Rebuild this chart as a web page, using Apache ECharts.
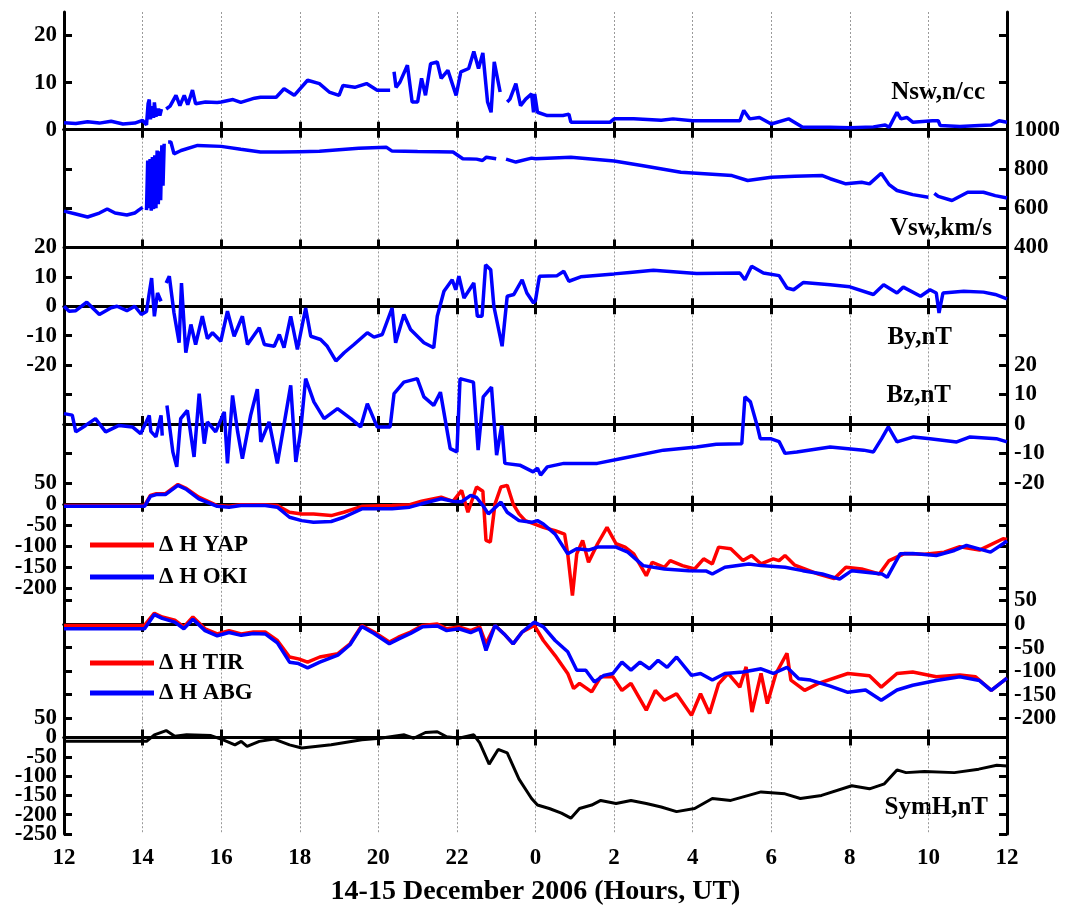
<!DOCTYPE html>
<html><head><meta charset="utf-8">
<script src="https://cdn.jsdelivr.net/npm/echarts@6/dist/echarts.min.js"></script>
<style>html,body{margin:0;padding:0;background:#fff}#c{width:1069px;height:907px}</style>
</head><body><div id="c"></div><script>
// ---------- data (time in hours from 14 Dec 00 UT) ----------
const nswT = [12.0,12.3,12.6,12.9,13.2,13.5,13.8,14.0,14.1,14.14,14.17,14.2,14.25,14.28,14.3,14.34,14.4,14.44,14.48,14.5,14.6,14.7,14.85,14.95,15.06,15.15,15.27,15.35,15.6,15.9,16.0,16.3,16.5,16.85,17.0,17.4,17.6,17.86,18.2,18.5,18.75,19.0,19.1,19.4,19.7,19.97,20.3,20.35,20.4,20.45,20.55,20.74,20.86,21.0,21.1,21.2,21.33,21.5,21.6,21.77,21.98,22.1,22.3,22.43,22.55,22.66,22.78,22.87,22.95,23.1,23.15,23.28,23.35,23.5,23.62,23.75,23.9,23.95,23.98,24.05,24.3,24.7,24.85,24.9,25.5,25.9,26.0,26.5,27.2,27.5,28.0,28.5,29.2,29.3,29.45,29.7,30.0,30.44,30.8,31.5,32.0,32.6,32.9,33.0,33.2,33.3,33.45,33.6,34.1,34.25,34.3,34.8,35.3,35.6,35.8,36.0];
const nswV = [1.5,1.3,1.7,1.4,1.8,1.2,1.4,2.0,1.0,5.5,6.4,2.2,5.0,2.5,5.8,2.8,4.5,3.0,4.4,null,4.4,5.0,7.3,5.1,7.3,5.3,8.4,5.5,5.9,5.8,5.9,6.4,5.8,6.7,6.9,6.9,8.7,7.3,10.5,9.8,8.0,7.3,9.4,9.0,9.8,8.4,8.4,null,12.3,9.0,10.1,13.7,5.9,5.9,10.9,7.3,14.0,14.4,10.9,12.6,7.3,12.3,13.0,16.6,13.0,16.3,5.9,3.7,14.4,8.0,null,5.9,6.5,9.8,5.1,6.5,7.6,3.7,7.6,3.7,3.0,3.0,3.3,1.6,1.6,1.6,2.3,2.3,2.0,2.3,1.9,1.9,1.9,4.1,2.3,2.6,1.2,2.3,0.5,0.5,0.4,0.6,1.0,0.5,3.7,2.3,2.6,1.6,1.9,1.9,0.9,0.7,0.9,1.0,1.9,1.6];

const vswT = [12.0,12.3,12.6,12.9,13.1,13.3,13.6,13.8,13.9,14.0,14.05,14.1,14.13,14.16,14.19,14.22,14.25,14.28,14.31,14.34,14.37,14.4,14.43,14.46,14.49,14.52,14.55,14.6,14.65,14.72,14.8,14.98,15.4,16.0,16.5,17.0,17.5,18.0,18.5,19.0,19.5,20.2,20.35,21.0,21.5,21.9,22.15,22.5,22.65,22.75,23.0,23.2,23.25,23.5,23.9,24.0,24.9,26.0,26.7,27.7,29.0,29.4,30.0,30.6,31.3,31.5,31.9,32.3,32.5,32.8,33.0,33.2,33.6,34.0,34.05,34.15,34.25,34.6,35.0,35.4,35.7,36.0];
const vswV = [585,570,555,575,596,575,565,575,590,604,null,590,843,600,850,587,860,595,870,600,894,620,890,640,920,715,928,null,937,937,877,894,920,915,900,886,886,888,890,898,905,911,891,889,888,886,852,850,843,860,852,null,850,835,855,852,860,840,818,783,766,741,758,763,766,750,724,732,724,778,720,690,669,656,null,676,660,639,681,681,664,652];

const byT = [12.0,12.13,12.3,12.58,12.9,13.2,13.35,13.6,13.8,13.97,14.1,14.17,14.23,14.3,14.38,14.47,14.5,14.6,14.68,14.8,14.93,14.99,15.1,15.23,15.35,15.52,15.65,15.78,15.99,16.16,16.33,16.54,16.67,16.97,17.1,17.35,17.48,17.6,17.77,17.94,18.15,18.28,18.53,18.7,18.92,19.13,19.38,19.72,19.89,20.1,20.35,20.44,20.65,20.82,21.16,21.41,21.5,21.67,21.88,21.97,22.05,22.18,22.43,22.52,22.64,22.73,22.86,22.94,23.15,23.28,23.45,23.66,23.78,23.95,24.0,24.1,24.55,24.72,24.85,25.15,26.0,26.4,27.0,28.1,29.2,29.33,29.5,29.8,30.2,30.4,30.57,30.82,31.5,32.0,32.6,32.86,33.2,33.36,33.8,34.04,34.2,34.27,34.37,34.9,35.4,35.7,36.0];
const byV = [0,-1.7,-1.5,1.4,-2.8,-0.5,0,-1.5,0,-2.8,-1.8,4.5,9.6,-3.4,4.5,1.7,null,7.9,10.2,-2.3,-12.4,7.9,-15.8,-6.2,-13.0,-3.4,-11,-9.0,-11.9,-1.7,-10.2,-3.4,-13.0,-7.3,-13.0,-13.6,-9.6,-14.1,-3.4,-14.7,-0.6,-10.2,-11.3,-13.6,-18.6,-15.8,-13.0,-9.0,-10.5,-9.6,-0.6,-12.4,-2.8,-7.9,-12.4,-14.1,-3.4,5.1,9.0,5.6,10.2,2.8,7.9,-3.4,-3.4,14.1,12.4,0,-13.6,3.4,4.0,9.0,4.5,1.1,2.0,10.2,10.4,11.9,8.5,10.0,11.0,11.5,12.2,11.1,11.3,9.0,13.6,11.3,10.4,6.2,5.6,8.1,7.3,6.6,4.0,7.3,4.5,6.5,3.4,5.6,4.5,-2.3,4.5,5.1,4.8,4.0,2.5];

const bzT = [12.0,12.21,12.3,12.55,12.8,13.06,13.4,13.74,13.95,14.17,14.21,14.34,14.47,14.5,14.55,14.62,14.77,14.87,14.97,15.14,15.31,15.44,15.57,15.65,15.86,16.08,16.16,16.29,16.42,16.54,16.75,16.92,17.01,17.22,17.43,17.77,17.9,18.02,18.15,18.36,18.62,18.96,19.3,19.55,19.72,19.97,20.3,20.4,20.65,20.99,21.16,21.41,21.58,21.83,22.0,22.08,22.42,22.54,22.67,22.88,23.01,23.14,23.22,23.6,23.94,24.05,24.13,24.3,24.72,25.57,26.16,27.26,28.1,28.6,29.25,29.33,29.47,29.64,29.72,29.98,30.2,30.35,30.65,31.5,32.35,32.6,32.81,32.98,33.2,33.62,34.04,34.72,35.06,35.73,36.0];
const bzV = [3.5,3.0,-2.7,-0.5,1.8,-2.7,-0.5,-1.0,-3.3,2.9,-2.5,-4.4,2.9,-4,null,6.3,-9.5,-14.6,1.8,4.6,-11.2,10.3,-6.7,0.7,-2.7,4.1,-13.4,9.7,-2.7,-11.8,2.9,11.8,-6.1,0.7,-13.4,13.1,-12.9,-2.7,15.4,7.5,1.8,5.2,1.8,-1.0,6.9,-1.0,-1.0,10.3,14.2,15.4,9.2,6.3,10.8,-8.4,-9.5,15.4,14.2,-8.9,9.2,12.5,-10.6,-0.5,-13.4,-14.0,-16.3,-15.0,-17.4,-14.6,-13.4,-13.4,-11.8,-8.9,-7.8,-6.9,-6.7,9.2,7.5,-0.5,-5.0,-5.0,-6.0,-10.0,-9.5,-7.8,-8.9,-9.5,-5.0,-1.0,-6.1,-4.4,-5.0,-6.1,-4.4,-5.0,-6.1];

const yapT = [12.0,14.05,14.2,14.35,14.58,14.9,15.12,15.43,15.9,16.2,16.5,17.12,17.43,17.74,18.05,18.35,18.8,19.12,19.58,20.35,20.8,21.1,21.6,21.9,22.12,22.28,22.5,22.66,22.74,22.85,22.97,23.12,23.28,23.43,23.58,23.74,24.2,24.5,24.74,24.82,24.94,25.05,25.2,25.35,25.58,25.82,26.05,26.28,26.5,26.82,26.97,27.28,27.43,27.74,28.05,28.28,28.5,28.66,28.97,29.28,29.5,29.74,30.05,30.2,30.35,30.6,31.2,31.6,31.9,32.3,32.75,33.0,33.4,33.9,34.4,34.8,35.3,35.9,36.0];
const yapV = [-4,-4,20,24,24,46,36,16,-4,-6,-2,-2,-4,-20,-24,-24,-28,-20,-6,-4,-2,6,16,6,32,-20,40,30,-87,-91,0,40,44,0,-24,-40,-56,-64,-72,-119,-218,-119,-87,-139,-95,-56,-95,-103,-119,-171,-139,-151,-135,-147,-155,-131,-143,-103,-107,-135,-123,-143,-131,-135,-123,-146,-167,-178,-151,-155,-167,-135,-118,-120,-115,-102,-110,-83,-85];

const okiT = [12.0,14.05,14.2,14.35,14.58,14.9,15.12,15.43,15.9,16.2,16.5,17.12,17.43,17.74,18.05,18.35,18.8,19.12,19.58,20.35,20.8,21.1,21.6,21.9,22.12,22.35,22.5,22.66,22.8,23.12,23.28,23.58,23.9,24.05,24.2,24.5,24.82,25.05,25.35,25.58,26.05,26.35,26.74,27.28,27.9,28.35,28.5,28.82,29.43,29.74,30.35,30.8,31.3,31.74,32.05,32.82,32.95,33.28,33.6,34.2,34.66,34.97,35.58,35.9,36.0];
const okiV = [-6,-6,18,22,22,44,34,12,-6,-8,-4,-4,-8,-32,-40,-44,-42,-32,-12,-12,-8,0,12,6,5,20,15,-4,-24,4,-20,-40,-44,-40,-48,-72,-119,-107,-110,-103,-103,-115,-147,-155,-159,-160,-167,-151,-143,-147,-151,-159,-167,-179,-159,-167,-175,-119,-118,-123,-111,-99,-115,-95,-88];

const tirT = [12.0,14.05,14.3,14.5,14.82,15.05,15.28,15.59,15.9,16.2,16.51,16.82,17.12,17.43,17.74,17.97,18.2,18.51,18.97,19.28,19.58,19.89,20.28,20.51,20.82,21.12,21.5,21.74,22.05,22.35,22.58,22.74,22.97,23.2,23.43,23.66,23.97,24.2,24.5,24.82,24.97,25.12,25.43,25.66,25.97,26.2,26.43,26.82,27.05,27.28,27.59,27.97,28.2,28.43,28.66,28.9,29.2,29.36,29.51,29.74,29.9,30.12,30.4,30.5,30.85,31.2,31.95,32.5,32.8,33.2,33.6,34.2,34.8,35.2,35.6,36.0];
const tirV = [-3,-3,23,15,8,-6,15,-10,-21,-14,-21,-17,-17,-35,-70,-74,-81,-70,-63,-42,-3,-17,-38,-28,-17,-3,0,-10,-6,-14,-6,-42,-3,-21,-42,-17,-3,-35,-67,-105,-137,-126,-144,-112,-112,-141,-126,-183,-141,-162,-148,-194,-148,-190,-127,-105,-134,-91,-187,-105,-169,-105,-62,-119,-141,-126,-105,-110,-134,-105,-102,-112,-108,-112,-141,-115];

const abgT = [12.0,14.05,14.3,14.5,14.82,15.05,15.28,15.59,15.9,16.2,16.51,16.82,17.12,17.43,17.74,17.97,18.2,18.51,18.97,19.28,19.58,19.89,20.28,20.51,20.82,21.12,21.5,21.74,22.05,22.35,22.58,22.74,22.97,23.2,23.43,23.66,23.97,24.2,24.5,24.82,25.05,25.28,25.5,25.74,25.97,26.2,26.43,26.66,26.9,27.12,27.35,27.59,27.97,28.2,28.5,28.82,29.28,29.74,30.05,30.4,30.7,31.0,31.5,31.95,32.4,32.8,33.2,33.6,34.2,34.8,35.3,35.6,36.0];
const abgV = [-10,-10,20,12,4,-10,10,-14,-25,-18,-24,-20,-21,-40,-81,-84,-93,-81,-66,-44,-5,-20,-42,-32,-20,-6,-4,-14,-10,-18,-10,-56,-3,-21,-42,-17,4,-6,-35,-59,-98,-98,-123,-109,-105,-81,-98,-81,-95,-77,-92,-70,-109,-105,-119,-105,-102,-95,-105,-92,-116,-119,-132,-145,-140,-162,-140,-130,-120,-112,-120,-141,-115];

const symT = [12.0,14.1,14.3,14.6,14.82,15.12,15.74,16.05,16.35,16.51,16.66,16.97,17.35,17.74,18.05,18.8,19.58,20.05,20.66,20.9,21.2,21.5,21.74,22.05,22.43,22.58,22.82,23.05,23.28,23.58,23.9,24.05,24.35,24.66,24.9,25.12,25.43,25.66,26.05,26.43,26.82,27.2,27.59,28.05,28.5,28.97,29.74,30.35,30.74,31.28,32.05,32.5,32.88,33.2,33.43,33.9,34.66,35.28,35.74,36.0];
const symV = [-10,-10,7,18,3,7,5,-6,-19,-10,-23,-10,-4,-19,-27,-19,-6,-2,7,-2,13,15,2,-2,7,-14,-69,-31,-40,-108,-158,-175,-184,-196,-209,-184,-175,-163,-171,-163,-171,-180,-192,-184,-158,-163,-141,-146,-158,-150,-125,-133,-120,-84,-91,-88,-91,-82,-72,-74];

const nswTicks = [0,10,20];
const vswTicks = [400,600,800,1000];
const bTicks = [-20,-10,0,10,20];
const dhTicks = [-200,-150,-100,-50,0,50];
const symTicks = [-250,-200,-150,-100,-50,0,50];
const panelLabels = ['Nsw,n/cc','Vsw,km/s','By,nT','Bz,nT','SymH,nT'];
const legendNames1 = ['\u0394 H YAP','\u0394 H OKI'];
const legendNames2 = ['\u0394 H TIR','\u0394 H ABG'];
const xTitle = '14-15 December 2006 (Hours, UT)';

// ---------- layout ----------
const FONT = 'Liberation Serif';
const GL = 64, GW = 943, GT = 12, GH = 117.7;
const panels = [
  {min:0, max:25, ticks:nswTicks, side:'left'},
  {min:400, max:1000, ticks:vswTicks, side:'right'},
  {min:-20, max:20, ticks:bTicks, side:'left'},
  {min:-20, max:20, ticks:bTicks, side:'right'},
  {min:-230, max:50, ticks:dhTicks, side:'left'},
  {min:-200, max:50, ticks:dhTicks, side:'right'},
  {min:-250, max:50, ticks:symTicks, side:'left'}
];
const zip = (t, v) => t.map((x, i) => [x, v[i] === null ? '-' : v[i]]);
const lineAx = {show:true, lineStyle:{color:'#000', width:3}};
const tickSt = {color:'#000', width:3};
const labelSt = {fontFamily:FONT, fontWeight:'bold', fontSize:23, color:'#000', formatter:v => String(v)};

const grid = [], xAxis = [], yAxis = [], extraY = [];
panels.forEach((p, i) => {
  grid.push({left:GL, width:GW, top:GT + i*GH, height:GH, containLabel:false});
  const last = i === panels.length - 1;
  xAxis.push({gridIndex:i, type:'value', min:12, max:36, interval:2, position:'bottom',
    axisLine:lineAx, axisTick:{show:true, inside:true, length:8, lineStyle:tickSt},
    axisLabel:Object.assign({}, labelSt, {show:last, margin:13, formatter:v => String(v >= 24 ? v - 24 : v)}),
    splitLine:{show:true, lineStyle:{type:[2,2], color:'#9a9a9a', width:1}},
    name: last ? xTitle : '', nameLocation:'middle', nameGap:44,
    nameTextStyle:{fontFamily:FONT, fontWeight:'bold', fontSize:28, color:'#000'}});
  xAxis.push({gridIndex:i, type:'value', min:12, max:36, interval:2, position:'top',
    axisLine:lineAx, axisTick:{show:true, inside:true, length:8, lineStyle:tickSt},
    axisLabel:{show:false}, splitLine:{show:false}});
  // labels split into two alternating sets so neighbouring labels are never culled
  const setA = p.ticks.filter((_, k) => k % 2 === 0);
  const setB = p.ticks.filter((_, k) => k % 2 === 1);
  ['left','right'].forEach(side => {
    yAxis.push({gridIndex:i, type:'value', min:p.min, max:p.max, position:side,
      axisLine:lineAx,
      axisTick:{show:true, inside:true, length:8, lineStyle:tickSt, customValues:p.ticks},
      axisLabel:Object.assign({show:p.side === side, margin:7, customValues:setA}, labelSt),
      splitLine:{show:false}});
  });
  extraY.push({gridIndex:i, type:'value', min:p.min, max:p.max, position:p.side, offset:0,
    axisLine:{show:false}, axisTick:{show:false},
    axisLabel:Object.assign({show:true, margin:7, customValues:setB}, labelSt),
    splitLine:{show:false}});
});
yAxis.push(...extraY);

const BLUE = '#0000ff', RED = '#ff0000';
const mk = (name, panel, t, v, color, w) => ({
  name, type:'line', xAxisIndex:2*panel, yAxisIndex:2*panel, data:zip(t, v),
  showSymbol:false, symbol:'none', animation:false, clip:true,
  lineStyle:{color, width:w}, itemStyle:{color}, connectNulls:false
});
const series = [
  mk('Nsw', 0, nswT, nswV, BLUE, 3.5),
  mk('Vsw', 1, vswT, vswV, BLUE, 3.5),
  mk('By', 2, byT, byV, BLUE, 3.5),
  mk('Bz', 3, bzT, bzV, BLUE, 3.5),
  mk(legendNames1[0], 4, yapT, yapV, RED, 3.5),
  mk(legendNames1[1], 4, okiT, okiV, BLUE, 3.5),
  mk(legendNames2[0], 5, tirT, tirV, RED, 3.5),
  mk(legendNames2[1], 5, abgT, abgV, BLUE, 3.5),
  mk('SymH', 6, symT, symV, '#000', 3)
];

const legTxt = {fontFamily:FONT, fontWeight:'bold', fontSize:23, color:'#000', lineHeight:24};
const legend = [
  {data:legendNames1, orient:'vertical', left:85, top:528, icon:'rect', itemWidth:64, itemHeight:5, itemGap:8, textStyle:legTxt, selectedMode:false},
  {data:legendNames2, orient:'vertical', left:85, top:646, icon:'rect', itemWidth:64, itemHeight:5, itemGap:6, textStyle:legTxt, selectedMode:false}
];

const labFont = 'bold 25px "Liberation Serif"';
const labPos = [[985, 93], [992, 229], [952, 338], [951, 396], [988, 808]];
const graphic = panelLabels.map((s, i) => ({type:'text', x:labPos[i][0], y:labPos[i][1],
  style:{text:s, font:labFont, fill:'#000', align:'right', verticalAlign:'middle'}}));

const chart = echarts.init(document.getElementById('c'));
chart.setOption({animation:false, backgroundColor:'#fff', grid, xAxis, yAxis, series, legend, graphic});
</script></body></html>
